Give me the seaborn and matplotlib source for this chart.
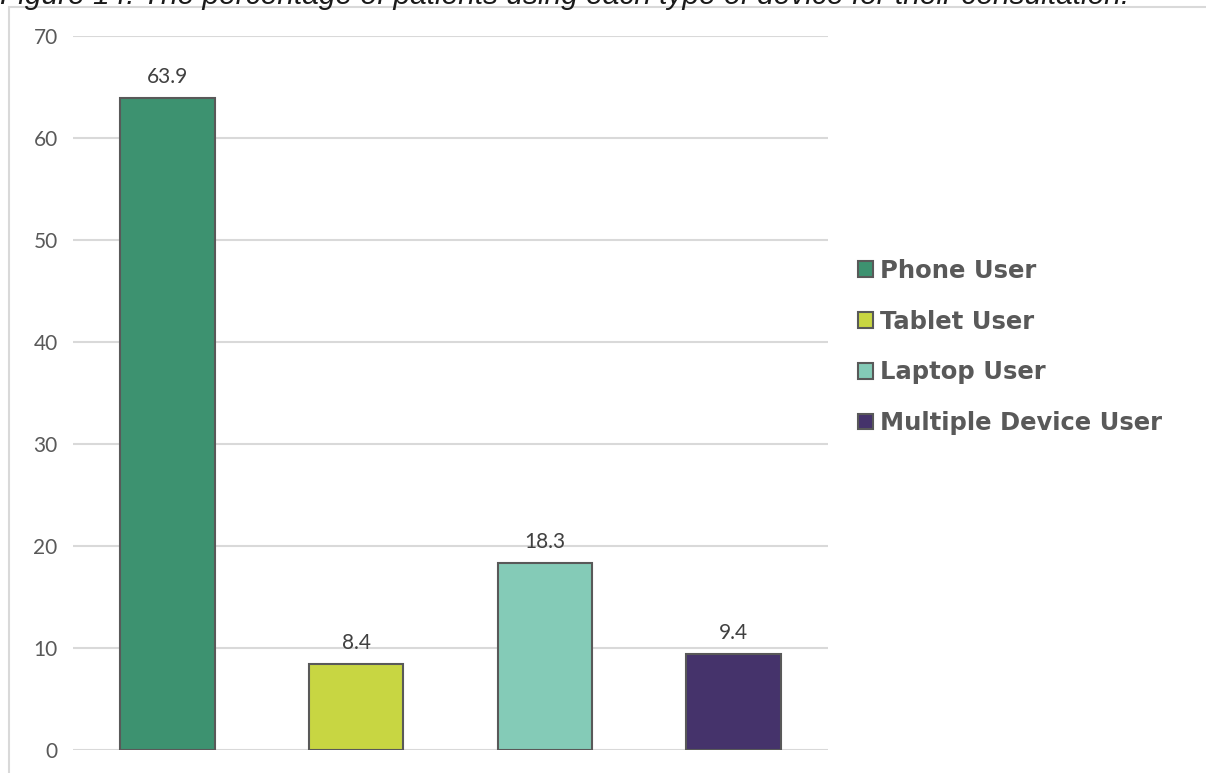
import matplotlib
matplotlib.use("Agg")
import matplotlib.pyplot as plt
import seaborn as sns
import pandas as pd
from matplotlib.patches import Rectangle, Patch

# Device usage shares (%)
categories = ["Phone User", "Tablet User", "Laptop User", "Multiple Device User"]
values = [63.9, 8.4, 18.3, 9.4]
colors = ["#3D9270", "#C8D642", "#84CBB7", "#45336B"]
yticks = [0, 10, 20, 30, 40, 50, 60, 70]
caption = "Figure 14. The percentage of patients using each type of device for their consultation."

sns.set_theme(style="white")
plt.rcParams["font.family"] = ["Lato", "DejaVu Sans"]

W, H = 1206, 773
fig = plt.figure(figsize=(W / 100, H / 100), dpi=100)
ax = fig.add_axes([73 / W, 1 - 750 / H, (828 - 73) / W, (750 - 36) / H])

df = pd.DataFrame({"device": categories, "share": values})
sns.barplot(data=df, x="device", y="share", hue="device", palette=colors,
            saturation=1, dodge=False, width=0.5, edgecolor="#595959",
            linewidth=1.5, legend=False, ax=ax, zorder=3)

for cont in ax.containers:
    ax.bar_label(cont, fmt="%.1f", padding=8, fontsize=15, color="#404040")

ax.set_ylim(0, 70)
ax.set_yticks(yticks)
ax.set_yticklabels([str(t) for t in yticks], fontsize=15, color="#595959")
ax.set_xticks([])
ax.set_xlabel("")
ax.set_ylabel("")
ax.tick_params(axis="y", length=0, pad=11)
ax.grid(axis="y", color="#D9D9D9", linewidth=1.5, zorder=0)
ax.set_axisbelow(True)
for s in ax.spines.values():
    s.set_visible(False)

# chart frame
fig.patches.append(Rectangle((9 / W, -0.1), 1.2, 1.1 - 7 / H, transform=fig.transFigure,
                             fill=False, edgecolor="#D9D9D9", linewidth=1.5))

handles = [Patch(facecolor=c, edgecolor="#595959", linewidth=1.5) for c in colors]
leg = fig.legend(handles, categories, loc="center left",
                 bbox_to_anchor=(836 / W, 1 - 347 / H), frameon=False,
                 prop={"family": "DejaVu Sans", "weight": "bold", "size": 17.5},
                 handlelength=0.62, handleheight=0.62, handletextpad=0.3,
                 labelspacing=1.1, labelcolor="#595959")

fig.text(0, 1 - 4 / H, caption, ha="left", va="baseline", fontsize=21.5,
         style="italic", family="Liberation Sans", color="#1a1a1a")

fig.savefig("out.png", dpi=100)
